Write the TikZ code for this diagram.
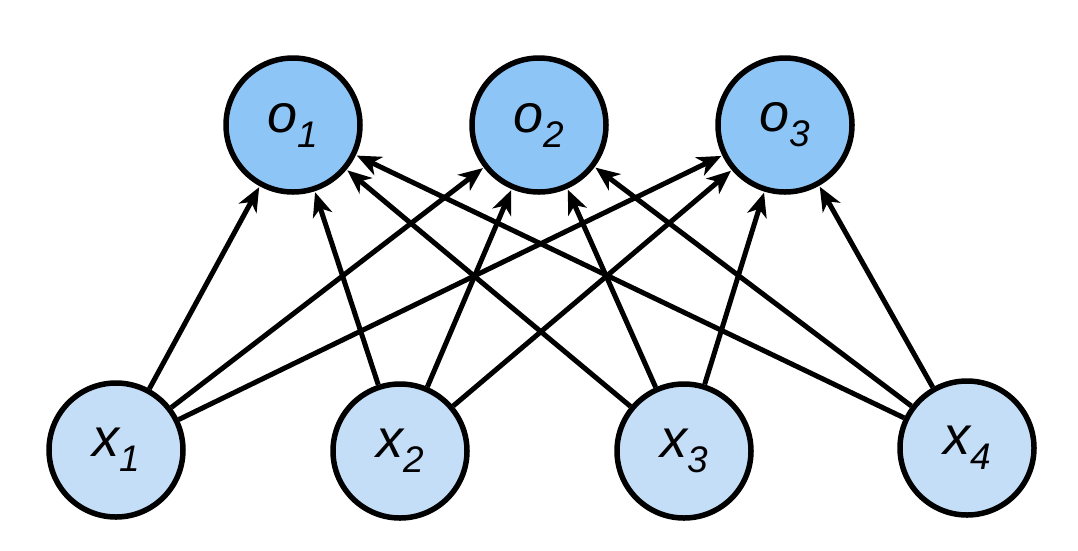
\documentclass[tikz,border=0pt]{standalone}
\usepackage{fontspec}
\setmainfont{Liberation Sans}
\usetikzlibrary{arrows.meta}
\definecolor{outfill}{HTML}{8EC5F7}
\definecolor{infill}{HTML}{C5DEF8}
\newcommand{\lbl}[2]{\fontsize{54}{54}\selectfont\itshape #1\raisebox{-15pt}{\fontsize{37}{37}\selectfont #2}}
\begin{document}
\begin{tikzpicture}[x=1pt,y=-1pt,
  neuron/.style={circle,draw=black,line width=5.5pt,minimum size=134pt,inner sep=0pt},
  outn/.style={neuron,fill=outfill},
  inn/.style={neuron,fill=infill},
  conn/.style={line width=5pt,-{Stealth[length=24pt,width=20pt,inset=7pt]},shorten >=1pt}
]
\useasboundingbox (0,0) rectangle (1078,550);
\node[outn] (o1) at (293,125) {\lbl{o}{1}};
\node[outn] (o2) at (539,125) {\lbl{o}{2}};
\node[outn] (o3) at (785,125) {\lbl{o}{3}};
\node[inn] (x1) at (116,450) {\lbl{x}{1}};
\node[inn] (x2) at (400,451) {\lbl{x}{2}};
\node[inn] (x3) at (684,451) {\lbl{x}{3}};
\node[inn] (x4) at (967,448) {\lbl{x}{4}};
\foreach \i in {1,2,3,4}{
  \foreach \j in {1,2,3}{
    \draw[conn] (x\i) -- (o\j);
  }
}
\end{tikzpicture}
\end{document}
